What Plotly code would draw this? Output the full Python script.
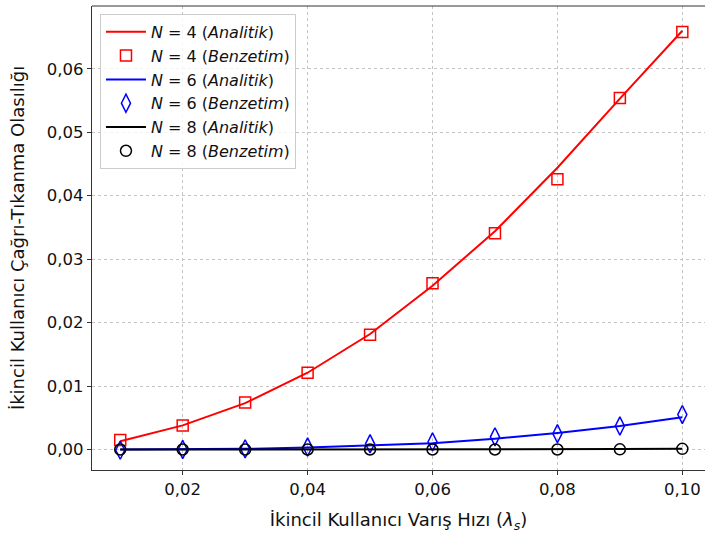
import plotly.graph_objects as go

x_vals = [0.01, 0.02, 0.03, 0.04, 0.05, 0.06, 0.07, 0.08, 0.09, 0.10]

n4_analytic = [0.0013, 0.0038, 0.0073, 0.0121, 0.0182, 0.0258, 0.0344, 0.0444, 0.0553, 0.0660]
n4_sim = [0.0015, 0.0038, 0.0074, 0.0121, 0.0181, 0.0262, 0.0341, 0.0426, 0.0554, 0.0658]

n6_analytic = [0.0, 0.00002, 0.0001, 0.0003, 0.0006, 0.0010, 0.0017, 0.0026, 0.0037, 0.0051]
n6_sim = [-0.0001, 0.0, 0.0001, 0.0004, 0.0009, 0.0012, 0.0020, 0.0025, 0.0037, 0.0055]

n8_analytic = [0.0, 0.0, 0.0, 0.0, 0.0, 0.00001, 0.00002, 0.00004, 0.00007, 0.00012]
n8_sim = [0.0, 0.0, 0.0, 0.0, 0.0, 0.0, 0.0, 0.0, 0.00003, 0.0001]

x_ticks = [0.02, 0.04, 0.06, 0.08, 0.10]
y_ticks = [0.00, 0.01, 0.02, 0.03, 0.04, 0.05, 0.06]

FONT = "DejaVu Sans"

fig = go.Figure()

def add_line(y, color, name, grp):
    fig.add_trace(go.Scatter(x=x_vals, y=y, mode="lines", name=name,
                             line=dict(color=color, width=2), legendgroup=grp))

def add_markers(y, color, symbol, size, name, grp):
    fig.add_trace(go.Scatter(x=x_vals, y=y, mode="markers", name=name,
                             marker=dict(symbol=symbol, size=size, color=color,
                                         line=dict(color=color, width=1.5)),
                             legendgroup=grp))

add_line(n4_analytic, "#ff0000", "<i>N</i> = 4 (<i>Analitik</i>)", "a")
add_markers(n4_sim, "#ff0000", "square-open", 11, "<i>N</i> = 4 (<i>Benzetim</i>)", "b")
add_line(n6_analytic, "#0000ff", "<i>N</i> = 6 (<i>Analitik</i>)", "c")
add_markers(n6_sim, "#0000ff", "diamond-tall-open", 13, "<i>N</i> = 6 (<i>Benzetim</i>)", "d")
add_line(n8_analytic, "#000000", "<i>N</i> = 8 (<i>Analitik</i>)", "e")
add_markers(n8_sim, "#000000", "circle-open", 11, "<i>N</i> = 8 (<i>Benzetim</i>)", "f")

fig.update_layout(
    width=705, height=533,
    margin=dict(l=92, r=0, t=6, b=63),
    paper_bgcolor="white", plot_bgcolor="white",
    separators=",.",
    font=dict(family=FONT, size=16, color="#111"),
    legend=dict(x=0.013, y=0.983, xanchor="left", yanchor="top",
                bgcolor="rgba(255,255,255,0.8)", bordercolor="#cccccc", borderwidth=1,
                font=dict(family=FONT, size=16), tracegroupgap=0,
                itemwidth=40),
    showlegend=True,
)

fig.update_xaxes(
    range=[0.00548, 0.10363], tickvals=x_ticks, tickformat=".2f",
    tickfont=dict(size=16.5),
    showgrid=True, gridcolor="#c4c4c4", griddash="dot", gridwidth=0.8,
    ticks="outside", ticklen=4, tickcolor="#333", tickwidth=1,
    showline=True, linecolor="#333", linewidth=1.2, mirror=False, zeroline=False,
    title=dict(text="İkincil Kullanıcı Varış Hızı (<i>λ</i><sub><i>s</i></sub>)",
               font=dict(size=18), standoff=16),
)
fig.update_yaxes(
    range=[-0.00323, 0.0699], tickvals=y_ticks, tickformat=".2f",
    tickfont=dict(size=16.5),
    showgrid=True, gridcolor="#c4c4c4", griddash="dot", gridwidth=0.8,
    ticks="outside", ticklen=4, tickcolor="#333", tickwidth=1,
    showline=True, linecolor="#333", linewidth=1.2, zeroline=False,
    title=dict(text="İkincil Kullanıcı Çağrı-Tıkanma Olasılığı", font=dict(size=18), standoff=17),
)

# top spine (the right spine is cropped off in the reference)
fig.add_shape(type="line", xref="paper", yref="paper", x0=0, x1=1, y0=1, y1=1,
              line=dict(color="#333", width=1.2))

fig.write_html("out.html")
